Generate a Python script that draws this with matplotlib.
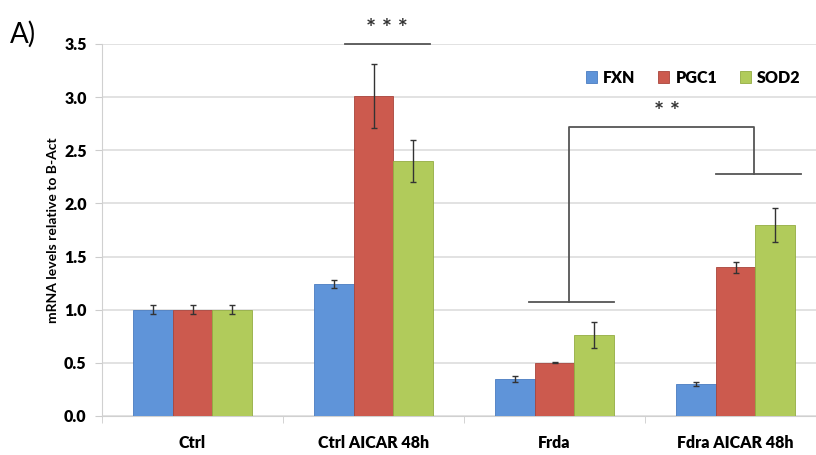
import matplotlib.pyplot as plt
import numpy as np

plt.rcParams["font.family"] = ["Lato", "DejaVu Sans"]

categories = ["Ctrl", "Ctrl AICAR 48h", "Frda", "Fdra AICAR 48h"]
series = ["FXN", "PGC1", "SOD2"]
values = {
    "FXN": [1.00, 1.24, 0.35, 0.30],
    "PGC1": [1.00, 3.01, 0.50, 1.40],
    "SOD2": [1.00, 2.40, 0.76, 1.80],
}
errors = {
    "FXN": [0.04, 0.04, 0.03, 0.02],
    "PGC1": [0.04, 0.30, 0.005, 0.05],
    "SOD2": [0.04, 0.20, 0.12, 0.16],
}
colors = {"FXN": "#5f94d9", "PGC1": "#cc5a4e", "SOD2": "#b1cb5b"}
edges = {"FXN": "#4a7cc0", "PGC1": "#a9443b", "SOD2": "#93ad42"}
yticks = [0.0, 0.5, 1.0, 1.5, 2.0, 2.5, 3.0, 3.5]


def main():
    fig = plt.figure(figsize=(8.16, 4.55), dpi=100)
    ax = fig.add_axes([102 / 816, 39 / 455, 724 / 816, 372 / 455])

    x = np.arange(len(categories))
    width = 0.22
    for i, name in enumerate(series):
        ax.bar(
            x + (i - 1) * width, values[name], width,
            color=colors[name], edgecolor=edges[name], linewidth=0.6,
            yerr=errors[name], capsize=2,
            error_kw=dict(ecolor="#333333", elinewidth=1.0, capthick=1.0),
            label=name, zorder=3,
        )

    ax.set_xlim(-0.5, len(categories) - 0.5)
    ax.set_ylim(0, 3.5)
    ax.set_yticks(yticks)
    ax.set_yticklabels([f"{v:.1f}" for v in yticks], fontsize=11.5, fontweight="heavy")
    ax.set_xticks(x)
    ax.set_xticklabels(categories, fontsize=11.5, fontweight="heavy")
    ax.set_xticks(np.arange(len(categories) + 1) - 0.5, minor=True)
    ax.tick_params(axis="x", which="major", length=0, pad=14)
    ax.tick_params(axis="x", which="minor", length=5, color="#cccccc")
    ax.tick_params(axis="y", length=5, color="#cccccc", pad=6)
    ax.yaxis.grid(True, color="#dddddd", linewidth=1.2, zorder=0)
    ax.set_axisbelow(True)
    for s in ["top", "right"]:
        ax.spines[s].set_visible(False)
    ax.spines["left"].set_color("#d0d0d0")
    ax.spines["bottom"].set_color("#d0d0d0")

    ax.set_ylabel("mRNA levels relative to B-Act", fontsize=10, fontweight="bold",
                  labelpad=4)

    # significance marks
    lc = "#555555"
    ax.plot([0.84, 1.31], [3.5, 3.5], color=lc, lw=1.3, clip_on=False, zorder=4)
    ax.text(1.075, 3.53, "* * *", ha="center", va="bottom", fontsize=17,
            fontweight="bold", color="#333333", clip_on=False)
    ax.plot([1.86, 2.33], [1.07, 1.07], color=lc, lw=1.3, zorder=4)
    ax.plot([2.89, 3.36], [2.28, 2.28], color=lc, lw=1.3, zorder=4)
    ax.plot([2.08, 2.08, 3.10, 3.10], [1.07, 2.72, 2.72, 2.28], color=lc, lw=1.3,
            zorder=4)
    ax.text(2.62, 2.75, "* *", ha="center", va="bottom", fontsize=17,
            fontweight="bold", color="#333333")

    ax.legend(loc="upper right", bbox_to_anchor=(0.985, 0.97), ncol=3,
              frameon=False, handlelength=0.7, handleheight=0.7,
              handletextpad=0.4, columnspacing=1.4,
              prop=dict(size=11.5, weight="heavy"))

    fig.text(0.012, 0.905, "A)", fontsize=20)

    fig.savefig("out.png", dpi=100)


if __name__ == "__main__":
    main()
